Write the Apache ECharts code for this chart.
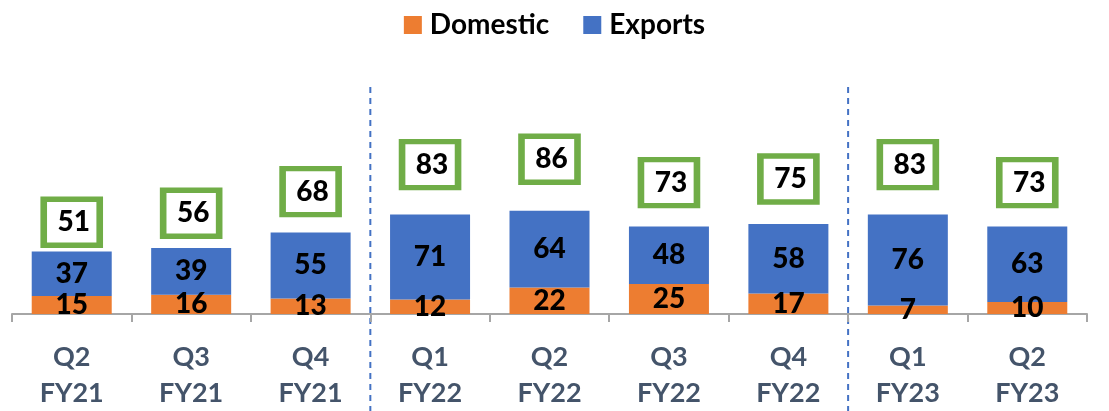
<!DOCTYPE html>
<html>
<head>
<meta charset="utf-8">
<script src="https://cdn.jsdelivr.net/npm/echarts@6/dist/echarts.min.js"></script>
<style>
* {margin:0; padding:0;}
body {background:#fff;}
#main {width:1109px; height:411px;}
</style>
</head>
<body>
<div id="main"></div>
<script>
var quarters = ['Q2\nFY21','Q3\nFY21','Q4\nFY21','Q1\nFY22','Q2\nFY22','Q3\nFY22','Q4\nFY22','Q1\nFY23','Q2\nFY23'];
var domestic = [15, 16, 13, 12, 22, 25, 17, 7, 10];
var exportsVal = [37, 39, 55, 71, 64, 48, 58, 76, 63];
var totals = [51, 56, 68, 83, 86, 73, 75, 83, 73];
// dashed separators sit on the left edge of these categories
var yearStarts = [3, 7];

var font = 'Lato, "Open Sans", sans-serif';
var chart = echarts.init(document.getElementById('main'));

chart.setOption({
    animation: false,
    legend: {
        top: 6,
        left: 'center',
        itemWidth: 18,
        itemHeight: 18,
        itemGap: 34,
        icon: 'rect',
        data: ['Domestic', 'Exports'],
        textStyle: {fontSize: 28, fontWeight: 'bold', color: '#000', fontFamily: font, padding: [0, 0, 0, 3]}
    },
    grid: {left: 12, right: 22, top: 87, bottom: 97, containLabel: false, outerBoundsMode: 'none'},
    xAxis: {
        type: 'category',
        data: quarters,
        axisLine: {lineStyle: {color: '#A6A6A6', width: 2}},
        axisTick: {show: true, length: 8, lineStyle: {color: '#A6A6A6', width: 2}},
        axisLabel: {
            margin: 25,
            fontSize: 27,
            lineHeight: 36,
            fontWeight: 'bold',
            color: '#44546A',
            fontFamily: font
        },
        splitLine: {show: false}
    },
    yAxis: [
        {type: 'value', min: 0, max: 189.2, show: false, splitLine: {show: false}},
        {type: 'value', min: 14.44, max: 140.56, show: false, splitLine: {show: false}}
    ],
    series: [
        {
            name: 'Domestic',
            type: 'bar',
            stack: 'sales',
            barWidth: 80,
            data: domestic,
            itemStyle: {color: '#ED7D31'},
            label: {show: true, position: 'inside', fontSize: 28, fontWeight: 900, color: '#000', fontFamily: font, textBorderWidth: 0}
        },
        {
            name: 'Exports',
            type: 'bar',
            stack: 'sales',
            barWidth: 80,
            data: exportsVal,
            itemStyle: {color: '#4472C4'},
            label: {show: true, position: 'inside', fontSize: 28, fontWeight: 900, color: '#000', fontFamily: font, textBorderWidth: 0}
        },
        {
            // total in a green framed box, bottom edge of the box sits on the value
            name: 'Total',
            type: 'scatter',
            yAxisIndex: 1,
            symbol: 'rect',
            symbolSize: [56, 46],
            symbolOffset: [0, -26],
            data: totals,
            itemStyle: {color: '#fff', borderColor: '#70AD47', borderWidth: 6, opacity: 1},
            label: {
                show: true,
                position: 'inside',
                offset: [2, 0],
                fontSize: 28,
                fontWeight: 900,
                color: '#000',
                fontFamily: font,
                textBorderWidth: 0
            }
        }
    ]
});

// dashed year separators, placed halfway between neighbouring categories
var lines = yearStarts.map(function (i) {
    var x = (chart.convertToPixel({xAxisIndex: 0}, i - 1) + chart.convertToPixel({xAxisIndex: 0}, i)) / 2;
    return {
        type: 'line',
        shape: {x1: x, y1: 87, x2: x, y2: 411},
        style: {stroke: '#4472C4', lineWidth: 2, lineDash: [6, 5]}
    };
});
chart.setOption({graphic: lines});
</script>
</body>
</html>
